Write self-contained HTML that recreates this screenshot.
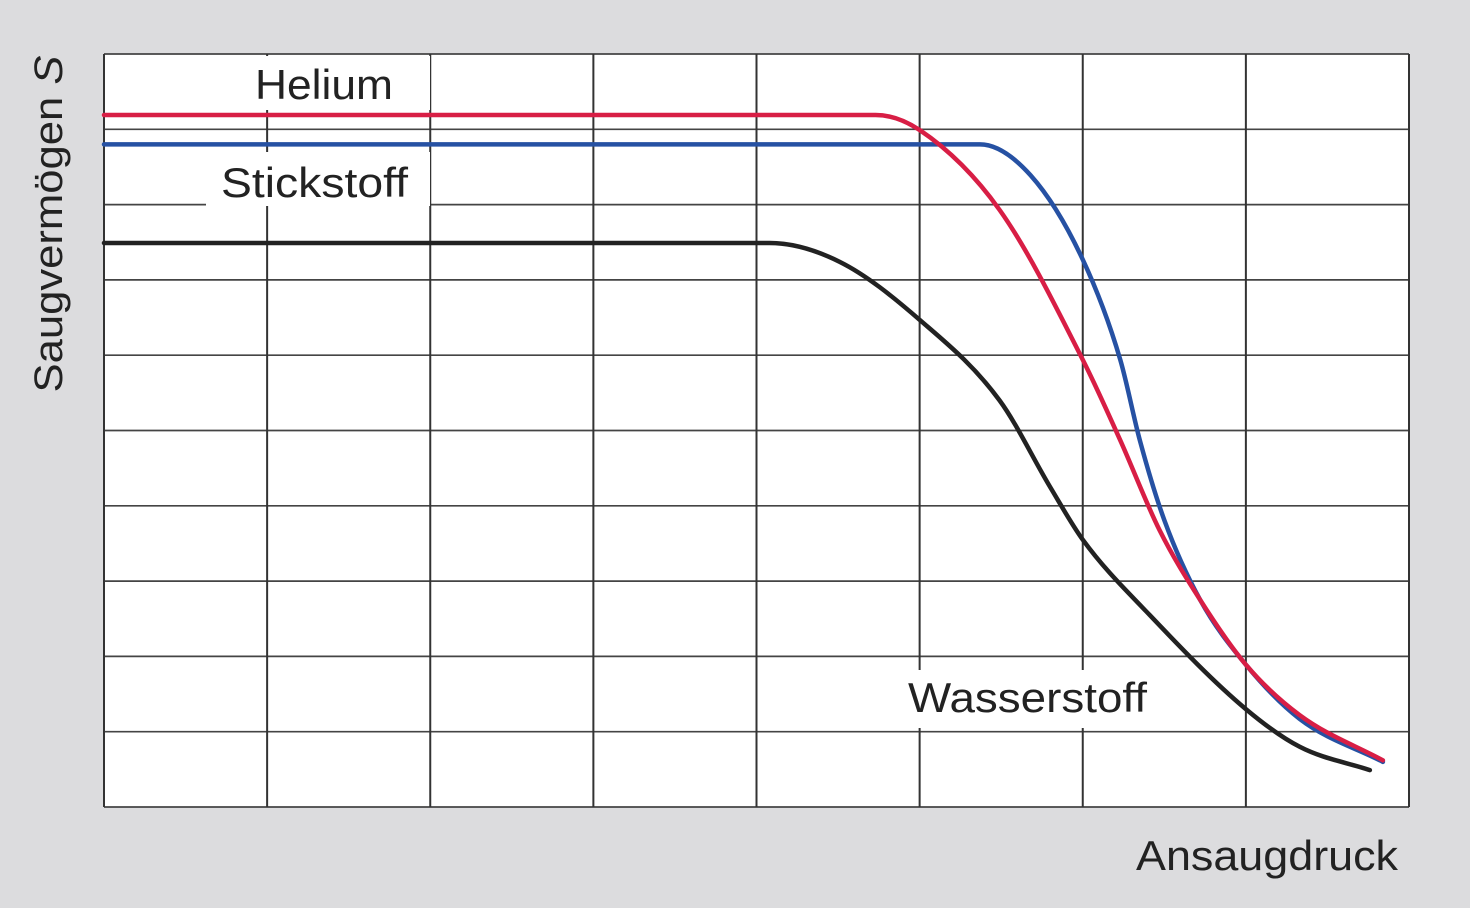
<!DOCTYPE html>
<html><head><meta charset="utf-8"><style>
body{margin:0;background:#dcdcde;}
svg{display:block;font-family:"Liberation Sans",sans-serif;}
</style></head><body>
<svg id="c" width="1470" height="908">
<rect width="1470" height="908" fill="#dcdcde"/>
<rect x="104" y="54" width="1305" height="753" fill="#fff"/>
<g id="grid"></g>
<g id="boxes"></g>
<g id="curves"></g>
<text x="62" y="224" font-size="40" fill="#222" text-anchor="middle" textLength="337" lengthAdjust="spacingAndGlyphs" transform="rotate(-90 62 224)">Saugvermögen <tspan font-style="italic">S</tspan></text>
<text x="1136" y="870" font-size="42" fill="#222" textLength="262" lengthAdjust="spacingAndGlyphs">Ansaugdruck</text>
</svg>
<script>
const xCols=8, yRows=10;
const seriesNames=["Helium","Stickstoff","Wasserstoff"];
const seriesColors=["#d81e45","#2651a3","#222222"];
const heliumX=[0,4.73,5.0,5.49,6.0,6.23,6.47,6.72,7.0,7.33,7.84];
const heliumY=[9.19,9.19,8.99,7.93,5.94,4.87,3.68,2.75,1.89,1.22,0.62];
const stickX=[0,5.37,5.68,6.0,6.23,6.35,6.5,6.72,7.0,7.33,7.84];
const stickY=[8.80,8.80,8.39,7.27,5.94,4.87,3.81,2.75,1.89,1.17,0.6];
const wasserX=[0,4.08,4.51,5.0,5.49,5.8,6.0,6.41,7.0,7.33,7.76];
const wasserY=[7.49,7.49,7.24,6.47,5.4,4.25,3.55,2.55,1.3,0.8,0.49];
const X0=104,X1=1409,Y0=807,Y1=54;
const sx=v=>X0+v*(X1-X0)/xCols, sy=v=>Y0-v*(Y0-Y1)/yRows;
const NS="http://www.w3.org/2000/svg";
function mk(tag,attrs,parent){const e=document.createElementNS(NS,tag);for(const k in attrs)e.setAttribute(k,attrs[k]);parent.appendChild(e);return e;}
const grid=document.getElementById('grid');
for(let i=0;i<=yRows;i++){const l=mk('line',{x1:X0,x2:X1,y1:sy(i),y2:sy(i),stroke:'#444','stroke-width':1.7},grid);

}
for(let i=0;i<=xCols;i++){const l=mk('line',{x1:sx(i),x2:sx(i),y1:Y1,y2:Y0,stroke:'#333','stroke-width':2},grid);

}
const boxes=document.getElementById('boxes');
mk('rect',{x:106,y:56,width:324,height:54,fill:'#fff'},boxes);
mk('rect',{x:206,y:152,width:224,height:54,fill:'#fff'},boxes);
mk('rect',{x:905,y:670,width:245,height:58,fill:'#fff'},boxes);
const lab=[["Helium",255,99,138],["Stickstoff",221,197,187],["Wasserstoff",908,712,239]];
lab.forEach(([t,x,y,w])=>{const e=mk('text',{x:x,y:y,'font-size':42,fill:'#222',textLength:w,lengthAdjust:'spacingAndGlyphs'},boxes);e.textContent=t;

});
function monoPath(xs,ys){
 const P=xs.map((x,i)=>[sx(x),sy(ys[i])]);const n=P.length;
 const d=[],m=new Array(n);
 for(let i=0;i<n-1;i++)d.push((P[i+1][1]-P[i][1])/(P[i+1][0]-P[i][0]));
 m[0]=d[0];m[n-1]=d[n-2];
 for(let i=1;i<n-1;i++)m[i]=(d[i-1]*d[i]<=0)?0:(d[i-1]+d[i])/2;
 for(let i=0;i<n-1;i++){if(d[i]===0){m[i]=0;m[i+1]=0;continue;}
  const a=m[i]/d[i],b=m[i+1]/d[i],s=a*a+b*b;if(s>9){const t=3/Math.sqrt(s);m[i]=t*a*d[i];m[i+1]=t*b*d[i];}}
 let p=`M${P[0][0]},${P[0][1]}`;
 for(let i=0;i<n-1;i++){const h=(P[i+1][0]-P[i][0])/3;
  p+=` C${P[i][0]+h},${P[i][1]+m[i]*h} ${P[i+1][0]-h},${P[i+1][1]-m[i+1]*h} ${P[i+1][0]},${P[i+1][1]}`;}
 return p;}
const curves=document.getElementById('curves');
const data=[[wasserX,wasserY,2],[stickX,stickY,1],[heliumX,heliumY,0]];
data.forEach(([xs,ys,k])=>{const p=mk('path',{d:monoPath(xs,ys),fill:'none',stroke:seriesColors[k],'stroke-width':4.5,'stroke-linecap':'round'},curves);

});
</script>
</body></html>
